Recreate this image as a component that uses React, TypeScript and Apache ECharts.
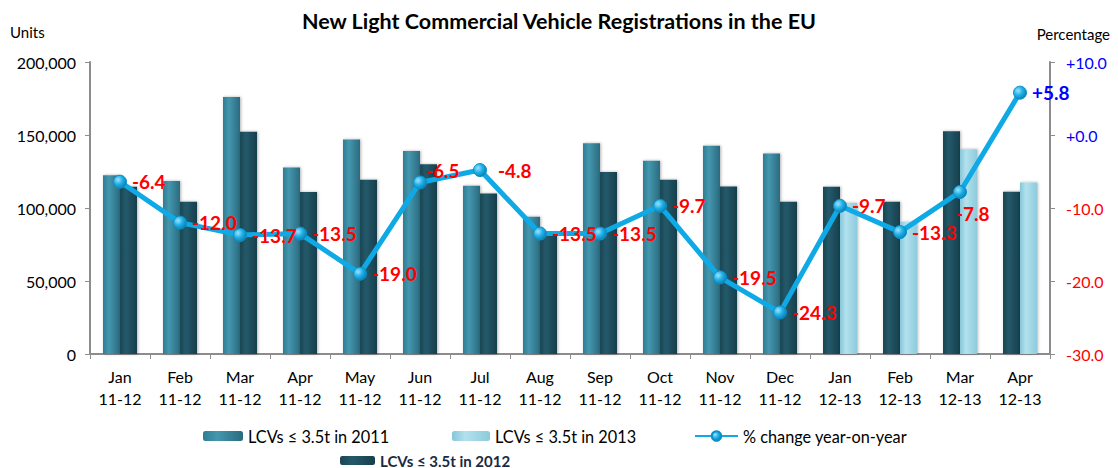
import React, { useEffect, useRef } from "react";
import * as echarts from "echarts";

const months = ["Jan", "Feb", "Mar", "Apr", "May", "Jun", "Jul", "Aug", "Sep", "Oct", "Nov", "Dec", "Jan", "Feb", "Mar", "Apr"];
const periods = ["11-12", "11-12", "11-12", "11-12", "11-12", "11-12", "11-12", "11-12", "11-12", "11-12", "11-12", "11-12", "12-13", "12-13", "12-13", "12-13"];

// left bar of each pair
const lcv2011 = [122500, 118500, 176000, 127800, 147000, 139000, 115300, 94000, 144300, 132400, 142700, 137400, null, null, null, null];
const lcv2012Left = [null, null, null, null, null, null, null, null, null, null, null, null, 114600, 104300, 152500, 111200];
// right bar of each pair
const lcv2012Right = [114600, 104300, 152300, 111000, 119400, 130000, 110000, 81500, 124600, 119300, 114800, 104200, null, null, null, null];
const lcv2013 = [null, null, null, null, null, null, null, null, null, null, null, null, 103500, 90400, 140300, 117500];

const pctChange = [-6.4, -12.0, -13.7, -13.5, -19.0, -6.5, -4.8, -13.5, -13.5, -9.7, -19.5, -24.3, -9.7, -13.3, -7.8, 5.8];

const leftTicks = [0, 50000, 100000, 150000, 200000];
const rightTicks = [-30, -20, -10, 0, 10];

const N2011 = "LCVs ≤ 3.5t in 2011";
const N2012 = "LCVs ≤ 3.5t in 2012";
const N2013 = "LCVs ≤ 3.5t in 2013";
const NPCT = "% change year-on-year";

const FONT = "Lato, 'Liberation Sans', sans-serif";

function grad(c1: string, c2: string, c3: string) {
  return new echarts.graphic.LinearGradient(0, 0, 1, 0, [
    { offset: 0, color: c1 },
    { offset: 0.35, color: c2 },
    { offset: 1, color: c3 },
  ]);
}

export default function App() {
  const ref = useRef<HTMLDivElement>(null);
  useEffect(() => {
    if (!ref.current) return;
    const chart = echarts.init(ref.current, undefined, { renderer: "svg" });
    const c2011 = grad("#2f7c92", "#4497ae", "#2a6b80");
    const c2012 = grad("#1a4654", "#24596a", "#173f4c");
    const c2013 = grad("#86c6d8", "#b3e1ee", "#8ccbdc");
    const barCommon = { type: "bar", barWidth: 17, barGap: "0%", barCategoryGap: "40%" } as any;
    const shadow = { shadowColor: "rgba(0,0,0,0.3)", shadowBlur: 3, shadowOffsetX: 1 };

    const pctData = pctChange.map((v, i) => {
      const item: any = { value: v };
      const lbl: any = {};
      if (v > 0) lbl.color = "#0000ff";
      if (i === 5) lbl.offset = [-6, -12];
      if (i === 14) lbl.offset = [-16, 22];
      if (i === 6) lbl.offset = [6, 0];
      item.label = lbl;
      return item;
    });

    const legText = { fontSize: 16.3, color: "#000", fontFamily: FONT };

    const option: any = {
      animation: false,
      backgroundColor: "#ffffff",
      textStyle: { fontFamily: FONT },
      title: {
        text: "New Light Commercial Vehicle Registrations in the EU",
        left: "center",
        top: 5,
        textStyle: { fontSize: 21.5, fontWeight: "bold", color: "#000", fontFamily: FONT },
      },
      graphic: [
        { type: "text", left: 10, top: 24, style: { text: "Units", fontSize: 15, fill: "#000", fontFamily: FONT } },
        { type: "text", right: 8, top: 26, style: { text: "Percentage", fontSize: 15, fill: "#000", fontFamily: FONT } },
      ],
      legend: [
        { data: [N2011], left: 203, top: 428, padding: 0, itemWidth: 40, itemHeight: 10, textStyle: legText },
        { data: [N2013], left: 452, top: 428, padding: 0, itemWidth: 38, itemHeight: 10, textStyle: legText },
        { data: [NPCT], left: 694, top: 428, padding: 0, itemWidth: 43, itemHeight: 12, textStyle: legText },
        {
          data: [N2012], left: 340, top: 453, padding: 0, itemWidth: 35, itemHeight: 9,
          textStyle: { fontSize: 15, fontWeight: "bold", color: "#1a2a40", fontFamily: FONT },
        },
      ],
      grid: { left: 90, right: 68, top: 62, bottom: 114 },
      xAxis: {
        type: "category",
        data: months.map((m, i) => m + "\n" + periods[i]),
        axisLine: { lineStyle: { color: "#8c8c8c", width: 2 } },
        axisTick: { show: true, length: 5, lineStyle: { color: "#8c8c8c" } },
        axisLabel: { fontSize: 16, color: "#000", lineHeight: 22, margin: 11, fontFamily: FONT },
      },
      yAxis: [
        {
          type: "value",
          min: leftTicks[0],
          max: leftTicks[leftTicks.length - 1],
          interval: 50000,
          splitLine: { show: false },
          axisLine: { show: true, lineStyle: { color: "#8c8c8c", width: 2 } },
          axisTick: { show: true, length: 5, lineStyle: { color: "#8c8c8c" } },
          axisLabel: {
            fontSize: 16, color: "#000", margin: 14, fontFamily: FONT,
            formatter: (v: number) => v.toLocaleString("en-US"),
          },
        },
        {
          type: "value",
          min: rightTicks[0],
          max: rightTicks[rightTicks.length - 1],
          interval: 10,
          position: "right",
          splitLine: { show: false },
          axisLine: { show: true, lineStyle: { color: "#8c8c8c", width: 2 } },
          axisTick: { show: true, length: 5, lineStyle: { color: "#8c8c8c" } },
          axisLabel: {
            fontSize: 16, margin: 16, fontFamily: FONT,
            formatter: (v: number) => (v >= 0 ? "{b|+" + v.toFixed(1) + "}" : "{r|" + v.toFixed(1) + "}"),
            rich: {
              b: { color: "#0000ff", fontSize: 16, fontFamily: FONT },
              r: { color: "#ff0000", fontSize: 16, fontFamily: FONT },
            },
          },
        },
      ],
      series: [
        { ...barCommon, name: N2011, stack: "L", data: lcv2011, itemStyle: { color: c2011, ...shadow } },
        { ...barCommon, name: N2012, stack: "R", data: lcv2012Right, itemStyle: { color: c2012, ...shadow } },
        { ...barCommon, name: N2012, stack: "L", data: lcv2012Left, itemStyle: { color: c2012, ...shadow } },
        { ...barCommon, name: N2013, stack: "R", data: lcv2013, itemStyle: { color: c2013, ...shadow } },
        {
          type: "line",
          name: NPCT,
          yAxisIndex: 1,
          data: pctData,
          symbol: "circle",
          symbolSize: 13,
          lineStyle: { color: "#0fa9e6", width: 5 },
          itemStyle: {
            color: new echarts.graphic.RadialGradient(0.35, 0.35, 0.7, [
              { offset: 0, color: "#9fe3ff" },
              { offset: 0.5, color: "#1fb0e8" },
              { offset: 1, color: "#0b7fb0" },
            ]),
            borderColor: "#0b8fc8",
            borderWidth: 1,
          },
          label: {
            show: true,
            position: "right",
            distance: 5,
            fontSize: 19,
            fontWeight: "bold",
            color: "#ff0000",
            fontFamily: FONT,
            formatter: (p: any) => (p.value > 0 ? "+" + p.value.toFixed(1) : p.value.toFixed(1)),
          },
          z: 5,
        },
      ],
    };
    chart.setOption(option);
    return () => chart.dispose();
  }, []);
  return <div ref={ref} style={{ width: 1118, height: 468, position: "absolute", left: 0, top: 0 }} />;
}
